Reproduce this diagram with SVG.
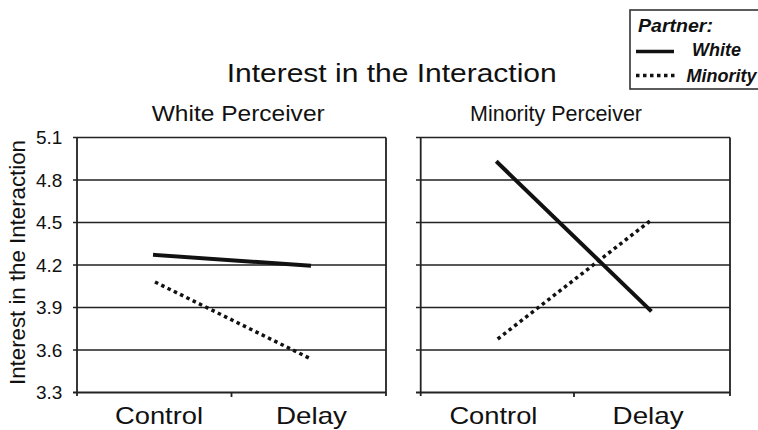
<svg xmlns="http://www.w3.org/2000/svg" width="758" height="430" viewBox="0 0 758 430">
<style>
text{font-family:"Liberation Sans",Arial,sans-serif;fill:#111}
.grid{stroke:#222;stroke-width:1.6;fill:none}
.axis{stroke:#222;stroke-width:1.8;fill:none}
.solid{stroke:#111;stroke-width:4;fill:none;stroke-linecap:square}
.dot{stroke:#111;stroke-width:3.5;fill:none;stroke-dasharray:3.5 3.5}
.tick{font-size:19px}
.cat{font-size:24px}
.sub{font-size:22px}
.leg{font-size:18px;font-weight:bold;font-style:italic}
</style>
<rect width="758" height="430" fill="#fff"/>
<g id="title">
<text x="226.7" y="82" font-size="26" textLength="330" lengthAdjust="spacingAndGlyphs">Interest in the Interaction</text>
</g>
<g id="legend">
<rect x="630" y="10" width="140" height="79" fill="#fff" stroke="#333" stroke-width="1.6"/>
<text class="leg" x="638" y="31.5" textLength="75" lengthAdjust="spacingAndGlyphs">Partner:</text>
<line x1="636" y1="51.5" x2="674" y2="51.5" stroke="#111" stroke-width="3.5"/>
<text class="leg" x="692" y="56" textLength="49" lengthAdjust="spacingAndGlyphs">White</text>
<line x1="636" y1="75.5" x2="676" y2="75.5" class="dot" stroke-width="3"/>
<text class="leg" x="686.5" y="81.5">Minority</text>
</g>
<g id="y-axis">
<text transform="translate(25,262.5) rotate(-90)" text-anchor="middle" font-size="22" textLength="245" lengthAdjust="spacingAndGlyphs">Interest in the Interaction</text>
<text class="tick" x="36" y="144">5.1</text>
<text class="tick" x="36" y="186.5">4.8</text>
<text class="tick" x="36" y="229">4.5</text>
<text class="tick" x="36" y="271.5">4.2</text>
<text class="tick" x="36" y="314">3.9</text>
<text class="tick" x="36" y="356.5">3.6</text>
<text class="tick" x="36" y="399">3.3</text>
</g>
<g id="panel-white">
<text class="sub" x="151.7" y="120.5" textLength="173" lengthAdjust="spacingAndGlyphs">White Perceiver</text>
<path class="grid" d="M73 137.5H386M73 180H386M73 222.5H386M73 265H386M73 307.5H386M73 350H386"/>
<path class="axis" d="M73 392.5H386M77 137.5V396M386 137.5V396M231.5 392.5V397"/>
<text class="cat" x="115" y="424" textLength="88" lengthAdjust="spacingAndGlyphs">Control</text>
<text class="cat" x="276" y="424" textLength="71" lengthAdjust="spacingAndGlyphs">Delay</text>
</g>
<g id="panel-minority">
<text class="sub" x="470" y="120.5" textLength="172" lengthAdjust="spacingAndGlyphs">Minority Perceiver</text>
<path class="grid" d="M416 137.5H730M416 180H730M416 222.5H730M416 265H730M416 307.5H730M416 350H730"/>
<path class="axis" d="M416 392.5H730M420.7 137.5V396M730 137.5V396M574 392.5V397"/>
<text class="cat" x="449.4" y="424" textLength="88" lengthAdjust="spacingAndGlyphs">Control</text>
<text class="cat" x="612.6" y="424" textLength="71" lengthAdjust="spacingAndGlyphs">Delay</text>
</g>
<g id="connectors">
<line class="solid" x1="155" y1="255" x2="309" y2="265.5"/>
<line class="dot" x1="155" y1="282" x2="309" y2="358"/>
<line class="solid" x1="497.7" y1="162.7" x2="650" y2="310"/>
<line class="dot" x1="497.7" y1="339" x2="650" y2="221"/>
</g>
</svg>
